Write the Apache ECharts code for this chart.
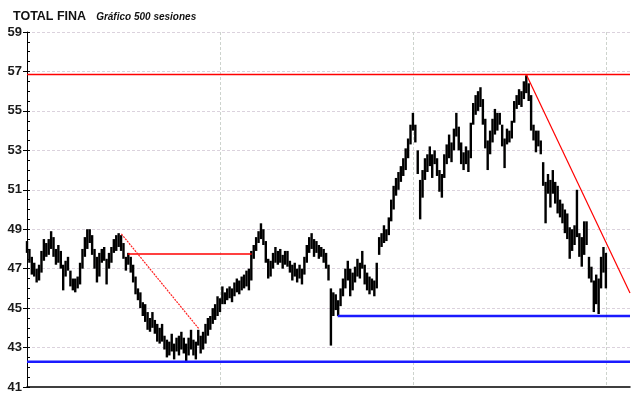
<!doctype html>
<html>

<head>
  <meta charset="utf-8">
  <title>index</title>
  <script type="text/javascript" src="https://cdn.jsdelivr.net/npm/echarts@6/dist/echarts.min.js"></script>
  <style>
    html, body { margin: 0; padding: 0; background: #fff; }
    #main { width: 640px; height: 398px; }
  </style>
</head>

<body>
  <div id="main"></div>
  <script>
    // one entry every 2 sessions: low / high of the period
    var step = 2;
    var lows = [
      47.8, 47.3, 46.7, 46.6, 46.3, 46.4, 46.8, 47.4, 47.6, 47.7,
      48.0, 47.6, 47.2, 47.3, 47.0, 45.9, 46.6, 46.9, 46.1, 45.9,
      45.8, 46.0, 46.2, 47.0, 47.6, 48.0, 48.3, 47.7, 47.0, 46.3,
      46.6, 47.3, 47.4, 46.2, 47.0, 47.3, 47.8, 47.9, 48.1, 47.9,
      47.5, 46.9, 47.2, 46.8, 46.3, 45.7, 45.4, 45.0, 44.6, 44.3,
      43.9, 43.8, 44.0, 43.7, 43.3, 43.2, 43.3, 42.9, 42.5, 42.6,
      42.8, 42.4, 42.8, 42.6, 42.9, 42.7, 42.3, 42.6, 42.9, 42.6,
      42.4, 43.1, 42.7, 42.9, 43.2, 43.6, 43.9, 44.2, 44.4, 44.6,
      44.8, 45.2, 45.2, 45.4, 45.5, 45.3, 45.6, 45.8, 45.7, 45.9,
      46.0, 46.1, 45.9, 46.4, 47.5, 47.9, 48.3, 48.5, 48.2, 47.3,
      46.5, 46.6, 47.0, 47.3, 47.2, 47.3, 47.0, 47.2, 47.1, 46.8,
      46.4, 46.6, 46.3, 46.5, 46.2, 46.7, 47.3, 47.8, 48.0, 47.6,
      47.8, 47.5, 47.6, 47.3, 47.0, 46.4, 43.1, 44.6, 44.9, 44.6,
      45.1, 45.6, 46.0, 46.4, 45.6, 45.9, 46.3, 46.6, 46.5, 47.0,
      46.2, 45.9, 45.7, 45.9, 45.6, 46.0, 47.7, 48.1, 48.3, 48.4,
      48.7, 49.4, 50.0, 50.7, 51.0, 51.4, 51.7, 52.0, 52.6, 53.3,
      54.0, 53.4, 51.8, 49.5, 50.6, 51.5, 51.9, 52.2, 51.6, 52.3,
      51.7, 50.9, 50.6, 51.6, 52.3, 52.6, 52.4, 53.0, 53.7, 53.0,
      52.3, 52.0, 52.3, 51.9, 52.6, 54.3, 54.8, 55.0, 55.2, 54.3,
      53.1, 52.0, 52.8, 53.4, 53.8, 54.0, 54.3, 53.2, 52.1, 53.3,
      53.4, 53.6, 54.4, 55.1, 55.3, 55.2, 55.6, 55.9, 55.5, 54.0,
      53.5, 52.9, 53.2, 52.8, 51.2, 49.3, 50.8, 50.1, 50.8, 50.3,
      49.8, 49.6, 49.3, 48.8, 48.5, 47.5, 47.9, 48.2, 48.6, 47.6,
      47.1, 47.7, 48.2, 46.5, 46.3, 44.8, 45.2, 44.7, 46.0, 46.8,
      46.0
    ];
    var highs = [
      48.4, 48.0, 47.6, 47.3, 47.0, 47.2, 47.9, 48.5, 48.3, 48.5,
      48.9, 48.6, 48.0, 48.2, 47.9, 47.2, 47.4, 47.6, 46.9, 46.5,
      46.5, 46.6, 47.3, 48.0, 48.6, 49.0, 49.0, 48.7, 48.0, 47.6,
      47.8, 48.0, 48.1, 47.5, 47.8, 48.1, 48.5, 48.7, 48.8, 48.7,
      48.3, 47.6, 47.8, 47.6, 47.2, 46.6, 46.0, 45.8, 45.3, 45.2,
      44.8, 44.5, 44.8, 44.4, 44.2, 44.0, 44.2, 43.6, 43.4, 43.3,
      43.7, 43.2, 43.5, 43.6, 43.8, 43.5, 43.2, 43.5, 43.9, 43.4,
      43.3, 43.9, 43.6, 43.8, 44.2, 44.5, 44.6, 45.0, 45.2, 45.6,
      45.5, 46.1, 45.8, 46.0, 46.1, 46.0, 46.3, 46.5, 46.4, 46.6,
      46.7, 46.9, 47.0, 47.9, 48.2, 48.6, 48.9, 49.3, 49.0, 48.4,
      47.5, 47.4, 47.8, 48.1, 47.9, 48.0, 47.7, 47.9, 47.9, 47.4,
      47.2, 47.3, 47.0, 47.2, 47.0, 47.6, 48.2, 48.6, 48.8, 48.5,
      48.4, 48.2, 48.1, 48.0, 47.8, 47.2, 46.0, 45.8, 45.7, 45.4,
      46.0, 46.5, 47.0, 47.4, 47.0, 46.8, 47.1, 47.5, 47.3, 47.9,
      47.2, 46.8, 46.6, 46.5, 46.4, 47.3, 48.6, 48.8, 49.2, 49.0,
      49.6, 50.5, 51.2, 51.6, 51.9, 52.2, 52.6, 53.1, 53.6, 54.3,
      54.9, 54.3, 53.0, 51.5, 52.0, 52.6, 52.8, 53.2, 52.8, 53.0,
      52.6, 52.0, 51.8, 52.8, 53.3, 53.8, 53.4, 54.1, 54.9, 54.2,
      53.4, 52.9, 53.2, 53.0, 54.4, 55.4, 55.8, 56.0, 56.2, 55.6,
      54.6, 53.5, 54.0, 54.6, 55.1, 54.9, 54.9, 54.3, 53.6, 54.1,
      54.0, 54.5, 55.5, 55.8, 56.1, 56.0, 56.5, 56.8, 56.4, 55.8,
      54.3, 54.0, 54.0, 53.5, 52.4, 51.4, 51.8, 51.5, 52.0, 51.4,
      51.2, 50.5, 50.3, 50.0, 49.8, 49.1, 49.0, 49.2, 51.0, 48.8,
      48.6, 49.4, 49.4, 47.6, 47.1, 46.4, 46.7, 46.5, 47.6, 48.1,
      47.8
    ];

    // trend lines and levels: [session, price] pairs
    var topLevel = [[0, 56.85], [500, 56.85]];
    var downTrend = [[414, 56.85], [500, 45.77]];
    var midLevel = [[83.5, 47.75], [186.3, 47.75]];
    var dashTrend = [[78.3, 48.76], [142.4, 43.96]];
    var lowSupport = [[0, 42.28], [500, 42.28]];
    var midSupport = [[257.6, 44.6], [500, 44.6]];

    var bars = lows.map(function (v, i) { return [i * step, v, highs[i]]; });

    function line(data, color, width, type) {
      return {
        type: 'line', data: data, showSymbol: false, silent: true, z: 5,
        lineStyle: { color: color, width: width, type: type || 'solid' }
      };
    }

    var chart = echarts.init(document.getElementById('main'));
    chart.setOption({
      animation: false,
      title: {
        left: 8, top: 3,
        text: '{a|TOTAL FINA}  {b|Gráfico 500 sesiones}',
        textStyle: {
          rich: {
            a: { fontFamily: 'Liberation Sans', fontWeight: 'bold', fontSize: 12.5, color: '#111' },
            b: { fontFamily: 'Liberation Sans', fontStyle: 'italic', fontSize: 10, color: '#111' }
          }
        }
      },
      grid: { left: 27, right: 10, top: 32, bottom: 11 },
      xAxis: {
        type: 'value', min: 0, max: 500, interval: 160,
        axisLine: { lineStyle: { color: '#000', width: 1.5 } },
        axisTick: { show: false },
        axisLabel: { show: false },
        splitLine: { show: true, showMinLine: false, showMaxLine: false, lineStyle: { color: '#cdd3cd', type: [3, 2] } }
      },
      yAxis: [{
        type: 'value', min: 41, max: 59, interval: 2,
        axisLine: { show: true, lineStyle: { color: '#000', width: 1 } },
        axisTick: { show: true, inside: false, length: 4, lineStyle: { color: '#000' } },
        axisLabel: { margin: 5, fontFamily: 'Liberation Sans', fontWeight: 'bold', fontSize: 13, color: '#1a1a1a' },
        splitLine: { show: true, showMinLine: false, lineStyle: { color: '#dbd2dd', type: [3, 2] } }
      }, {
        type: 'value', min: 41, max: 59, interval: 0.5, position: 'left',
        axisLine: { show: false },
        axisTick: { show: true, inside: true, length: 3, lineStyle: { color: '#000' } },
        axisLabel: { show: false },
        splitLine: { show: false }
      }],
      series: [
        {
          type: 'custom', data: bars, z: 3,
          renderItem: function (params, api) {
            var x = api.value(0);
            var top = api.coord([x, api.value(2)]);
            var bot = api.coord([x, api.value(1)]);
            var w = api.size([step, 0])[0];
            return {
              type: 'rect',
              shape: { x: top[0] - w / 2, y: top[1], width: w, height: Math.max(bot[1] - top[1], 1) },
              style: { fill: '#000' }
            };
          }
        },
        line(topLevel, '#ff0000', 1.5),
        line(downTrend, '#ff0000', 1.2),
        line(midLevel, '#ff0000', 1.5),
        line(dashTrend, '#ff2020', 1.2, [2, 1]),
        line(lowSupport, '#1a1aff', 2.5),
        line(midSupport, '#1a1aff', 2.5)
      ]
    });
  </script>
</body>

</html>
